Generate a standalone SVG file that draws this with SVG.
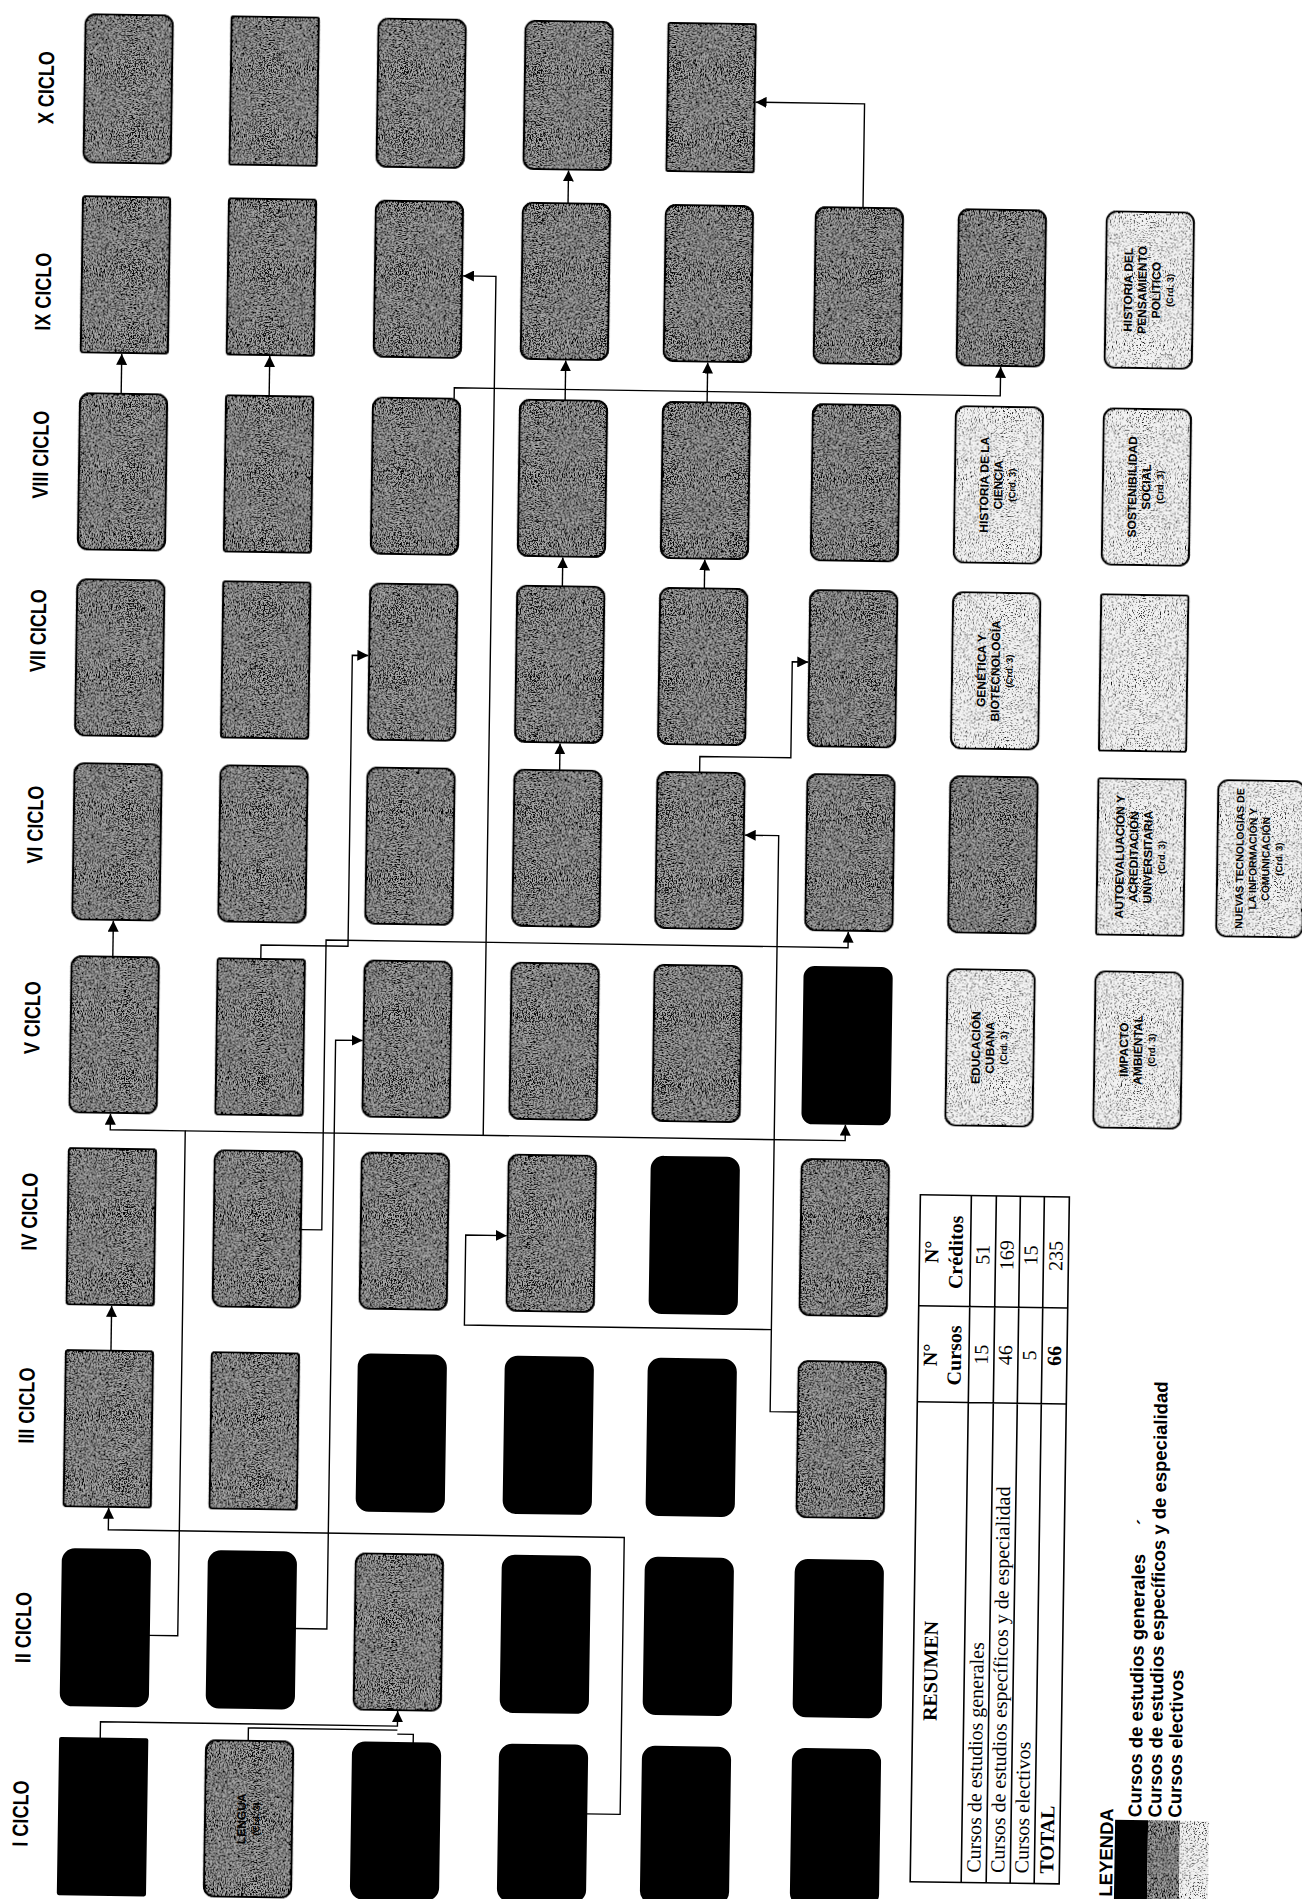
<svg xmlns="http://www.w3.org/2000/svg" width="1302" height="1899" viewBox="0 0 1302 1899">
<defs>
<style>
.hdr{font-family:"Liberation Sans",Arial,sans-serif;font-weight:bold;font-size:22px;fill:#000;text-anchor:middle}
.bt{font-family:"Liberation Sans",Arial,sans-serif;font-weight:bold;font-size:12px;text-anchor:middle;fill:#000}
.bs{font-size:9.5px}
.box{stroke:#000;stroke-width:2.2}
.g{fill:#a8a8a8;filter:url(#nD)}
.l{fill:#f2f2f2;filter:url(#nL)}
.k{fill:#000}
.cn{fill:none;stroke:#000;stroke-width:1.4}
.tb{font-family:"Liberation Serif","Times New Roman",serif;font-size:20px;fill:#000}
.tbb{font-weight:bold}
.tl{stroke:#000;stroke-width:1.6;fill:none}
.lg{font-family:"Liberation Sans",Arial,sans-serif;font-weight:bold;font-size:18.5px;fill:#000}
</style>
<filter id="nD">
<feTurbulence type="fractalNoise" baseFrequency="0.75" numOctaves="2" seed="4" result="t"/>
<feColorMatrix in="t" type="matrix" values="0 0 0 0 0 0 0 0 0 0 0 0 0 0 0 9 0 0 0 -4.0" result="d"/>
<feComposite in="d" in2="SourceAlpha" operator="in" result="dc"/>
<feMerge><feMergeNode in="SourceGraphic"/><feMergeNode in="dc"/></feMerge>
</filter>
<filter id="nL">
<feTurbulence type="fractalNoise" baseFrequency="0.75" numOctaves="2" seed="9" result="t"/>
<feColorMatrix in="t" type="matrix" values="0 0 0 0 0 0 0 0 0 0 0 0 0 0 0 9 0 0 0 -5.0" result="d"/>
<feComposite in="d" in2="SourceAlpha" operator="in" result="dc"/>
<feMerge><feMergeNode in="SourceGraphic"/><feMergeNode in="dc"/></feMerge>
</filter>
<marker id="ah" viewBox="0 0 10 10" refX="10" refY="5" markerWidth="11" markerHeight="11" markerUnits="userSpaceOnUse" orient="auto">
<path d="M0,0 L10,5 L0,10 z" fill="#000"/>
</marker>
</defs>
<rect x="0" y="0" width="1302" height="1899" fill="#fff"/>
<g transform="rotate(0.85)">
<g id="headers">
<text class="hdr" transform="translate(55,87) rotate(-90) scale(0.82,1)">X CICLO</text>
<text class="hdr" transform="translate(55,291) rotate(-90) scale(0.82,1)">IX CICLO</text>
<text class="hdr" transform="translate(55,454) rotate(-90) scale(0.82,1)">VIII CICLO</text>
<text class="hdr" transform="translate(55,630) rotate(-90) scale(0.82,1)">VII CICLO</text>
<text class="hdr" transform="translate(55,824) rotate(-90) scale(0.82,1)">VI CICLO</text>
<text class="hdr" transform="translate(55,1017) rotate(-90) scale(0.82,1)">V CICLO</text>
<text class="hdr" transform="translate(55,1211) rotate(-90) scale(0.82,1)">IV CICLO</text>
<text class="hdr" transform="translate(55,1405) rotate(-90) scale(0.82,1)">III CICLO</text>
<text class="hdr" transform="translate(55,1627) rotate(-90) scale(0.82,1)">II CICLO</text>
<text class="hdr" transform="translate(55,1813) rotate(-90) scale(0.82,1)">I CICLO</text>
</g>
<g id="connectors">
<path class="cn" marker-end="url(#ah)" d="M866,195 V91 H757"/>
<path class="cn" marker-end="url(#ah)" d="M571,195 V162"/>
<path class="cn" marker-end="url(#ah)" d="M127,392 V352"/>
<path class="cn" marker-end="url(#ah)" d="M275,392 V352"/>
<path class="cn" marker-end="url(#ah)" d="M571,392 V352"/>
<path class="cn" marker-end="url(#ah)" d="M713,392 V352"/>
<path class="cn" marker-end="url(#ah)" d="M460,392 V381 H1006 V352"/>
<path class="cn" marker-end="url(#ah)" d="M500,1128 V269 H467"/>
<path class="cn" marker-end="url(#ah)" d="M571,578 V549"/>
<path class="cn" marker-end="url(#ah)" d="M713,578 V549"/>
<path class="cn" marker-end="url(#ah)" d="M571,762 V735"/>
<path class="cn" marker-end="url(#ah)" d="M711,762 V746 H802 V650 H818"/>
<path class="cn" marker-end="url(#ah)" d="M127,955 V919"/>
<path class="cn" marker-end="url(#ah)" d="M275,955 V941 H362 V650 H378"/>
<path class="cn" marker-end="url(#ah)" d="M319,1225 H340 V935 H862 V919"/>
<path class="cn" marker-end="url(#ah)" d="M819,1400 H791 V824 H757"/>
<path class="cn" marker-end="url(#ah)" d="M791,1318 H484 V1228 H525"/>
<path class="cn" marker-end="url(#ah)" d="M173,1633 H202 V1128 H127 V1112"/>
<path class="cn" marker-end="url(#ah)" d="M202,1128 H862 V1112"/>
<path class="cn" marker-end="url(#ah)" d="M319,1624 H351 V1035 H378"/>
<path class="cn" marker-end="url(#ah)" d="M131,1349 V1304"/>
<path class="cn" marker-end="url(#ah)" d="M613,1805 H647 V1528 H131 V1506"/>
<path class="cn" marker-end="url(#ah)" d="M126,1737 V1720 H423 V1705"/>
<path class="cn" d="M274,1737 V1724 H423"/>
<path class="cn" d="M439,1737 V1728 H423"/>
</g>
<g id="nodes">
<g id="n-x1"><rect class="box g" x="86" y="13" width="87" height="148" rx="10"/></g>
<g id="n-x2"><rect class="box g" x="232" y="13" width="87" height="148" rx="2"/></g>
<g id="n-x3"><rect class="box g" x="379" y="13" width="87" height="148" rx="10"/></g>
<g id="n-x4"><rect class="box g" x="526" y="13" width="87" height="148" rx="10"/></g>
<g id="n-x5"><rect class="box g" x="669" y="13" width="87" height="148" rx="2"/></g>
<g id="n-ix1"><rect class="box g" x="86" y="195" width="87" height="156" rx="3"/></g>
<g id="n-ix2"><rect class="box g" x="232" y="195" width="87" height="156" rx="3"/></g>
<g id="n-ix3"><rect class="box g" x="379" y="195" width="87" height="156" rx="10"/></g>
<g id="n-ix4"><rect class="box g" x="526" y="195" width="87" height="156" rx="10"/></g>
<g id="n-ix5"><rect class="box g" x="669" y="195" width="87" height="156" rx="10"/></g>
<g id="n-ix6"><rect class="box g" x="819" y="195" width="87" height="156" rx="10"/></g>
<g id="n-ix7"><rect class="box g" x="962" y="195" width="87" height="156" rx="10"/></g>
<g id="n-ix8"><rect class="box l" x="1110" y="195" width="87" height="156" rx="10"/>
<text class="bt" transform="translate(1153.5,273) rotate(-90)"><tspan x="0" y="-17">HISTORIA DEL</tspan><tspan x="0" y="-3">PENSAMIENTO</tspan><tspan x="0" y="11">POLÍTICO</tspan><tspan class="bs" x="0" y="24">(Crd. 3)</tspan></text></g>
<g id="n-viii1"><rect class="box g" x="86" y="392" width="87" height="156" rx="10"/></g>
<g id="n-viii2"><rect class="box g" x="232" y="392" width="87" height="156" rx="3"/></g>
<g id="n-viii3"><rect class="box g" x="379" y="392" width="87" height="156" rx="10"/></g>
<g id="n-viii4"><rect class="box g" x="526" y="392" width="87" height="156" rx="10"/></g>
<g id="n-viii5"><rect class="box g" x="669" y="392" width="87" height="156" rx="10"/></g>
<g id="n-viii6"><rect class="box g" x="819" y="392" width="87" height="156" rx="10"/></g>
<g id="n-viii7"><rect class="box l" x="962" y="392" width="87" height="156" rx="10"/>
<text class="bt" transform="translate(1005.5,470) rotate(-90)"><tspan x="0" y="-10">HISTORIA DE LA</tspan><tspan x="0" y="4">CIENCIA</tspan><tspan class="bs" x="0" y="17">(Crd. 3)</tspan></text></g>
<g id="n-viii8"><rect class="box l" x="1110" y="392" width="87" height="156" rx="10"/>
<text class="bt" transform="translate(1153.5,470) rotate(-90)"><tspan x="0" y="-10">SOSTENIBILIDAD</tspan><tspan x="0" y="4">SOCIAL</tspan><tspan class="bs" x="0" y="17">(Crd. 3)</tspan></text></g>
<g id="n-vii1"><rect class="box g" x="86" y="578" width="87" height="156" rx="10"/></g>
<g id="n-vii2"><rect class="box g" x="232" y="578" width="87" height="156" rx="3"/></g>
<g id="n-vii3"><rect class="box g" x="379" y="578" width="87" height="156" rx="10"/></g>
<g id="n-vii4"><rect class="box g" x="526" y="578" width="87" height="156" rx="10"/></g>
<g id="n-vii5"><rect class="box g" x="669" y="578" width="87" height="156" rx="10"/></g>
<g id="n-vii6"><rect class="box g" x="819" y="578" width="87" height="156" rx="10"/></g>
<g id="n-vii7"><rect class="box l" x="962" y="578" width="87" height="156" rx="10"/>
<text class="bt" transform="translate(1005.5,656) rotate(-90)"><tspan x="0" y="-10">GENÉTICA Y</tspan><tspan x="0" y="4">BIOTECNOLOGÍA</tspan><tspan class="bs" x="0" y="17">(Crd. 3)</tspan></text></g>
<g id="n-vii8"><rect class="box l" x="1110" y="578" width="87" height="156" rx="2"/></g>
<g id="n-vi1"><rect class="box g" x="86" y="762" width="87" height="156" rx="10"/></g>
<g id="n-vi2"><rect class="box g" x="232" y="762" width="87" height="156" rx="10"/></g>
<g id="n-vi3"><rect class="box g" x="379" y="762" width="87" height="156" rx="10"/></g>
<g id="n-vi4"><rect class="box g" x="526" y="762" width="87" height="156" rx="10"/></g>
<g id="n-vi5"><rect class="box g" x="669" y="762" width="87" height="156" rx="10"/></g>
<g id="n-vi6"><rect class="box g" x="819" y="762" width="87" height="156" rx="10"/></g>
<g id="n-vi7"><rect class="box g" x="962" y="762" width="87" height="156" rx="10"/></g>
<g id="n-vi8"><rect class="box l" x="1110" y="762" width="87" height="156" rx="2"/>
<text class="bt" transform="translate(1153.5,840) rotate(-90)"><tspan x="0" y="-17">AUTOEVALUACIÓN Y</tspan><tspan x="0" y="-3">ACREDITACIÓN</tspan><tspan x="0" y="11">UNIVERSITARIA</tspan><tspan class="bs" x="0" y="24">(Crd. 3)</tspan></text></g>
<g id="n-vi9"><rect class="box l" x="1230" y="762" width="86" height="156" rx="10"/>
<text class="bt" style="font-size:10.5px" transform="translate(1273,840) rotate(-90)"><tspan x="0" y="-17">NUEVAS TECNOLOGÍAS DE</tspan><tspan x="0" y="-4">LA INFORMACIÓN Y</tspan><tspan x="0" y="9">COMUNICACIÓN</tspan><tspan class="bs" x="0" y="22">(Crd. 3)</tspan></text></g>
<g id="n-v1"><rect class="box g" x="86" y="955" width="87" height="156" rx="10"/></g>
<g id="n-v2"><rect class="box g" x="232" y="955" width="87" height="156" rx="3"/></g>
<g id="n-v3"><rect class="box g" x="379" y="955" width="87" height="156" rx="10"/></g>
<g id="n-v4"><rect class="box g" x="526" y="955" width="87" height="156" rx="10"/></g>
<g id="n-v5"><rect class="box g" x="669" y="955" width="87" height="156" rx="10"/></g>
<g id="n-v6"><rect class="box k" x="819" y="955" width="87" height="156" rx="10"/></g>
<g id="n-v7"><rect class="box l" x="962" y="955" width="87" height="156" rx="10"/>
<text class="bt" transform="translate(1005.5,1033) rotate(-90)"><tspan x="0" y="-10">EDUCACIÓN</tspan><tspan x="0" y="4">CUBANA</tspan><tspan class="bs" x="0" y="17">(Crd. 3)</tspan></text></g>
<g id="n-v8"><rect class="box l" x="1110" y="955" width="87" height="156" rx="10"/>
<text class="bt" transform="translate(1153.5,1033) rotate(-90)"><tspan x="0" y="-10">IMPACTO</tspan><tspan x="0" y="4">AMBIENTAL</tspan><tspan class="bs" x="0" y="17">(Crd. 3)</tspan></text></g>
<g id="n-iv1"><rect class="box g" x="86" y="1147" width="87" height="156" rx="3"/></g>
<g id="n-iv2"><rect class="box g" x="232" y="1147" width="87" height="156" rx="10"/></g>
<g id="n-iv3"><rect class="box g" x="379" y="1147" width="87" height="156" rx="10"/></g>
<g id="n-iv4"><rect class="box g" x="526" y="1147" width="87" height="156" rx="10"/></g>
<g id="n-iv5"><rect class="box k" x="669" y="1147" width="87" height="156" rx="12"/></g>
<g id="n-iv6"><rect class="box g" x="819" y="1147" width="87" height="156" rx="10"/></g>
<g id="n-iii1"><rect class="box g" x="86" y="1349" width="87" height="156" rx="3"/></g>
<g id="n-iii2"><rect class="box g" x="232" y="1349" width="87" height="156" rx="3"/></g>
<g id="n-iii3"><rect class="box k" x="379" y="1349" width="87" height="156" rx="12"/></g>
<g id="n-iii4"><rect class="box k" x="526" y="1349" width="87" height="156" rx="12"/></g>
<g id="n-iii5"><rect class="box k" x="669" y="1349" width="87" height="156" rx="12"/></g>
<g id="n-iii6"><rect class="box g" x="819" y="1349" width="87" height="156" rx="10"/></g>
<g id="n-ii1"><rect class="box k" x="86" y="1548" width="87" height="156" rx="12"/></g>
<g id="n-ii2"><rect class="box k" x="232" y="1548" width="87" height="156" rx="12"/></g>
<g id="n-ii3"><rect class="box g" x="379" y="1548" width="87" height="156" rx="10"/></g>
<g id="n-ii4"><rect class="box k" x="526" y="1548" width="87" height="156" rx="12"/></g>
<g id="n-ii5"><rect class="box k" x="669" y="1548" width="87" height="156" rx="12"/></g>
<g id="n-ii6"><rect class="box k" x="819" y="1548" width="87" height="156" rx="12"/></g>
<g id="n-i1"><rect class="box k" x="86" y="1737" width="87" height="156" rx="1"/></g>
<g id="n-i2"><rect class="box g" x="232" y="1737" width="87" height="156" rx="10"/>
<text class="bt" transform="translate(275.5,1815) rotate(-90)"><tspan x="0" y="-3">LENGUA</tspan><tspan class="bs" x="0" y="11">(Crd. 3)</tspan></text></g>
<g id="n-i3"><rect class="box k" x="379" y="1737" width="87" height="156" rx="12"/></g>
<g id="n-i4"><rect class="box k" x="526" y="1737" width="87" height="156" rx="12"/></g>
<g id="n-i5"><rect class="box k" x="669" y="1737" width="87" height="156" rx="12"/></g>
<g id="n-i6"><rect class="box k" x="819" y="1737" width="87" height="156" rx="12"/></g>
</g>
<g id="table">
<rect class="tl" x="938" y="1181" width="149" height="687"/>
<path class="tl" d="M989,1181 V1868 M1014,1181 V1868 M1038,1181 V1868 M1062,1181 V1868 M938,1292 H1087 M938,1388 H1087"/>
<text class="tb tbb" transform="translate(962,1657) rotate(-90)" text-anchor="middle">RESUMEN</text>
<text class="tb tbb" transform="translate(957,1341) rotate(-90)" text-anchor="middle">N°</text>
<text class="tb tbb" transform="translate(981,1341) rotate(-90)" text-anchor="middle">Cursos</text>
<text class="tb tbb" transform="translate(957,1238) rotate(-90)" text-anchor="middle">N°</text>
<text class="tb tbb" transform="translate(981,1238) rotate(-90)" text-anchor="middle">Créditos</text>
<text class="tb" transform="translate(1008,1858) rotate(-90)">Cursos de estudios generales</text>
<text class="tb" transform="translate(1032,1858) rotate(-90)">Cursos de estudios específicos y de especialidad</text>
<text class="tb" transform="translate(1056,1858) rotate(-90)">Cursos electivos</text>
<text class="tb tbb" transform="translate(1081,1858) rotate(-90)">TOTAL</text>
<text class="tb" transform="translate(1008,1340) rotate(-90)" text-anchor="middle">15</text>
<text class="tb" transform="translate(1032,1340) rotate(-90)" text-anchor="middle">46</text>
<text class="tb" transform="translate(1056,1340) rotate(-90)" text-anchor="middle">5</text>
<text class="tb tbb" transform="translate(1081,1340) rotate(-90)" text-anchor="middle">66</text>
<text class="tb" transform="translate(1008,1240) rotate(-90)" text-anchor="middle">51</text>
<text class="tb" transform="translate(1032,1240) rotate(-90)" text-anchor="middle">169</text>
<text class="tb" transform="translate(1056,1240) rotate(-90)" text-anchor="middle">15</text>
<text class="tb" transform="translate(1081,1240) rotate(-90)" text-anchor="middle">235</text>
</g>
<g id="legend">
<text class="lg" transform="translate(1140,1880) rotate(-90)">LEYENDA</text>
<rect x="1142" y="1803" width="33" height="130" fill="#000"/>
<rect x="1175" y="1803" width="32" height="130" fill="#a8a8a8" filter="url(#nD)"/>
<rect x="1207" y="1803" width="29" height="130" fill="#f2f2f2" filter="url(#nL)"/>
<text class="lg" transform="translate(1168,1800) rotate(-90)">Cursos de estudios generales</text>
<text class="lg" transform="translate(1188,1800) rotate(-90)">Cursos de estudios específicos y de especialidad</text>
<text class="lg" transform="translate(1208,1800) rotate(-90)">Cursos electivos</text>
<text class="lg" transform="translate(1173,1508) rotate(-90)">´</text>
</g>
</g>
</svg>
